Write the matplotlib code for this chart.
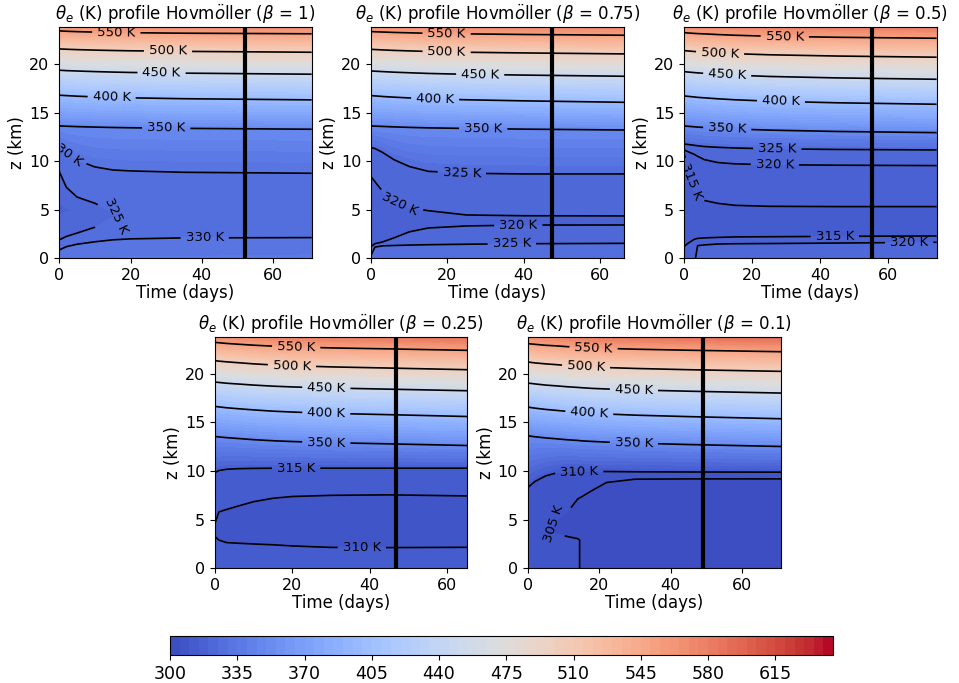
import numpy as np
import matplotlib
matplotlib.use("Agg")
import matplotlib.pyplot as plt

# ---------------- data ----------------
BETAS = ["1", "0.75", "0.5", "0.25", "0.1"]
T_SPINUP = [52.0, 47.5, 55.1, 46.8, 48.9]   # vertical marker (days)
Z_TOP = 23.8                                  # km
CBAR_LEVELS = np.arange(300, 650, 5)          # K

# Panel 1 (beta = 1): knot heights (km) and theta_e (K) at each time (days)
B1_T = [0, 2, 5, 10, 15, 20, 35, 70.8]
B1_Z = [0,
        [0.86, 1.2, 1.45, 1.7, 1.9, 2.0, 2.1, 2.13],
        [1.9, 2.25, 2.6, 3.2, 3.6, 3.8, 4.0, 4.0],
        [5.0, 5.0, 4.8, 4.5, 4.4, 4.8, 5.5, 5.5],
        [8.92, 7.3, 6.3, 5.66, 5.2, 6.0, 6.8, 6.8],
        [11.6, 10.8, 10.1, 9.4, 9.09, 8.99, 8.85, 8.75],
        [13.62, 13.59, 13.55, 13.50, 13.46, 13.43, 13.37, 13.28],
        [16.78, 16.74, 16.68, 16.61, 16.55, 16.51, 16.42, 16.30],
        [19.35, 19.31, 19.27, 19.21, 19.16, 19.12, 19.05, 18.94],
        [21.54, 21.51, 21.47, 21.42, 21.38, 21.35, 21.29, 21.20],
        [23.40, 23.36, 23.32, 23.27, 23.23, 23.21, 23.16, 23.10],
        Z_TOP]
B1_TH = [[334, 334, 334.5, 335, 335, 335.5, 335.5, 336],
         330,
         [325, 325, 325, 325, 326, 327.5, 328.5, 329],
         [319, 319.5, 320.5, 323.5, 324.6, 326, 327, 327.5],
         [325, 325, 325, 325, 325.5, 327, 328, 328.3],
         330, 350, 400, 450, 500, 550,
         [560, 561, 562, 563, 564, 565, 566.5, 569]]
B1_LINES = [325, 330, 350, 400, 450, 500, 550]

# Panel 2 (beta = 0.75)
B2_T = [0, 1, 3, 6, 10, 15, 25, 40, 66.3]
B2_Z = [0,
        [0.3, 1.15, 1.28, 1.32, 1.36, 1.4, 1.45, 1.5, 1.54],
        [1.2, 1.5, 1.68, 2.1, 2.72, 3.12, 3.33, 3.42, 3.43],
        [4.5, 4.5, 4.4, 4.2, 4.0, 3.9, 3.9, 3.9, 3.9],
        [8.4, 7.9, 6.9, 5.8, 5.2, 4.9, 4.46, 4.38, 4.36],
        [11.39, 11.3, 10.9, 10.15, 9.45, 8.95, 8.75, 8.68, 8.68],
        [13.62, 13.60, 13.57, 13.52, 13.47, 13.42, 13.36, 13.29, 13.20],
        [16.74, 16.71, 16.65, 16.58, 16.50, 16.42, 16.31, 16.20, 16.05],
        [19.28, 19.25, 19.21, 19.15, 19.09, 19.02, 18.93, 18.85, 18.73],
        [21.50, 21.48, 21.44, 21.39, 21.34, 21.28, 21.20, 21.13, 21.03],
        [23.33, 23.31, 23.28, 23.24, 23.20, 23.15, 23.09, 23.03, 22.95],
        Z_TOP]
B2_TH = [[325.6, 328, 328, 328, 328, 328, 328, 328, 328],
         325, 320,
         [315, 315.5, 316, 317, 318, 318.8, 319.2, 319.4, 319.5],
         320, 325, 350, 400, 450, 500, 550,
         [563, 563.5, 564.5, 565.5, 567, 568, 570, 571.5, 574]]
B2_LINES = [320, 325, 350, 400, 450, 500, 550]

# Panel 3 (beta = 0.5)
B3_T = [0, 1, 3, 4, 6, 10, 15, 25, 45, 74.2]
B3_Z = [0,
        [0.6, 0.6, 0.6, 1.3, 1.38, 1.47, 1.5, 1.52, 1.57, 1.65],
        [1.2, 1.5, 1.95, 2.05, 2.1, 2.15, 2.2, 2.22, 2.26, 2.3],
        [5.0, 5.0, 4.5, 4.3, 4.0, 3.8, 3.7, 3.6, 3.6, 3.6],
        [10.9, 9.3, 7.0, 6.4, 5.95, 5.65, 5.45, 5.35, 5.32, 5.32],
        [11.15, 11.0, 10.7, 10.5, 10.15, 9.85, 9.72, 9.63, 9.58, 9.54],
        [11.77, 11.72, 11.63, 11.58, 11.5, 11.42, 11.35, 11.27, 11.2, 11.15],
        [13.62, 13.59, 13.53, 13.50, 13.46, 13.38, 13.30, 13.19, 13.05, 12.93],
        [16.71, 16.67, 16.60, 16.56, 16.51, 16.41, 16.31, 16.17, 16.00, 15.85],
        [19.21, 19.17, 19.11, 19.08, 19.03, 18.93, 18.84, 18.71, 18.56, 18.42],
        [21.37, 21.34, 21.28, 21.25, 21.21, 21.13, 21.05, 20.94, 20.81, 20.69],
        [23.22, 23.19, 23.14, 23.12, 23.09, 23.02, 22.95, 22.85, 22.74, 22.64],
        Z_TOP]
B3_TH = [[316, 317.5, 319.8, 320.3, 321, 321.5, 322, 322.5, 323, 323],
         [315.5, 316.5, 318, 320, 320, 320, 320, 320, 320, 320],
         315,
         [310, 310.5, 311, 311.3, 311.7, 312.2, 312.5, 313, 313, 313],
         315, 320, 325, 350, 400, 450, 500, 550,
         [566, 567, 568, 568.7, 569.7, 571.6, 573.5, 576, 579, 582]]
B3_LINES = [315, 320, 325, 350, 400, 450, 500, 550]

# Panel 4 (beta = 0.25)
B4_T = [0, 1, 3, 6, 10, 15, 20, 30, 45, 65.3]
B4_Z = [0,
        [3.26, 2.9, 2.64, 2.58, 2.5, 2.42, 2.3, 2.15, 2.13, 2.16],
        [4.0, 4.3, 4.4, 4.6, 4.8, 4.9, 5.0, 5.0, 5.0, 5.0],
        [4.63, 5.8, 6.05, 6.4, 6.85, 7.2, 7.38, 7.5, 7.55, 7.44],
        [9.85, 10.05, 10.18, 10.24, 10.27, 10.29, 10.29, 10.29, 10.29, 10.29],
        [13.55, 13.50, 13.43, 13.34, 13.22, 13.11, 13.03, 12.91, 12.79, 12.62],
        [16.64, 16.59, 16.50, 16.40, 16.28, 16.15, 16.06, 15.92, 15.79, 15.60],
        [19.14, 19.10, 19.02, 18.94, 18.83, 18.72, 18.64, 18.53, 18.41, 18.25],
        [21.34, 21.29, 21.22, 21.13, 21.01, 20.90, 20.82, 20.70, 20.58, 20.41],
        [23.22, 23.18, 23.11, 23.03, 22.93, 22.83, 22.76, 22.65, 22.55, 22.40],
        Z_TOP]
B4_TH = [313, 310,
         [309.8, 308.5, 308, 307.7, 307.3, 307, 306.9, 306.8, 306.8, 306.8],
         310, 315, 350, 400, 450, 500, 550,
         [566, 567, 569, 571.5, 574.5, 577, 579.5, 582.5, 585.5, 589]]
B4_LINES = [310, 315, 350, 400, 450, 500, 550]

# Panel 5 (beta = 0.1)
B5_T = [0, 2, 5, 8, 11, 14, 15, 18, 22, 30, 45, 70.8]
B5_Z = [0, 2.9, 3.9, 6.0,
        [7.0, 7.3, 7.7, 7.8, 8.0, 8.0, 8.0, 8.0, 8.0, 8.0, 8.0, 8.0],
        [7.8, 8.4, 9.0, 9.1, 9.0, 9.0, 9.0, 9.0, 8.82, 9.16, 9.19, 9.19],
        [8.3, 8.92, 9.5, 9.8, 9.93, 9.95, 9.95, 9.95, 9.95, 9.92, 9.9, 9.88],
        [13.62, 13.52, 13.40, 13.31, 13.21, 13.14, 13.10, 13.04, 12.97, 12.86, 12.72, 12.52],
        [16.57, 16.46, 16.33, 16.23, 16.13, 16.04, 16.01, 15.93, 15.86, 15.74, 15.59, 15.37],
        [19.04, 18.95, 18.83, 18.75, 18.66, 18.59, 18.56, 18.49, 18.43, 18.33, 18.20, 18.01],
        [21.20, 21.11, 21.01, 20.93, 20.84, 20.78, 20.75, 20.69, 20.63, 20.54, 20.41, 20.24],
        [23.09, 23.02, 22.92, 22.86, 22.78, 22.72, 22.70, 22.65, 22.60, 22.52, 22.41, 22.26],
        Z_TOP]
B5_TH = [[307, 307, 306.5, 306, 305.6, 305.2, 304.8, 304, 303.5, 303, 302.5, 302.5],
         [306.6, 306.6, 306.2, 306, 305.6, 305.2, 304.8, 304, 303.5, 303, 302.5, 302.5],
         [306.2, 306, 305.3, 304.4, 304, 303.8, 303.5, 303, 302.7, 302.5, 302.3, 302.3],
         [306.8, 306.6, 306, 305.6, 305.1, 304.6, 304.4, 303.8, 303.3, 302.8, 302.5, 302.5],
         [308.4, 308.3, 307.3, 306.5, 305.9, 305.3, 305.3, 305.0, 304.2, 303.5, 303.2, 303.2],
         [309.5, 309.3, 309.2, 308.8, 308.3, 307.5, 307, 306, 305, 305, 305, 305],
         310, 350, 400, 450, 500, 550,
         [570, 572, 575, 577, 579, 581, 582, 583, 585, 587.5, 590.5, 595]]
B5_LINES = [305, 310, 350, 400, 450, 500, 550]

# ---------------- layout (not data) ----------------
AX_RECTS = [
    [0.0618, 0.6218, 0.2632, 0.3387],
    [0.3869, 0.6218, 0.2638, 0.3387],
    [0.7132, 0.6218, 0.2635, 0.3387],
    [0.2242, 0.1679, 0.2631, 0.3391],
    [0.5503, 0.1679, 0.2641, 0.3391],
]
LABEL_POS = [
    [(16, 23.3), (30.5, 21.3), (28.7, 19.2), (14.7, 16.6), (30, 13.45),
     (2, 11.0), (16, 4.4), (40.8, 2.1)],
    [(19.8, 23.2), (19.8, 21.2), (28.6, 18.9), (16.8, 16.5), (29.4, 13.35),
     (23.8, 8.75), (7.6, 5.6), (38.6, 3.42), (36.9, 1.5)],
    [(29.6, 22.85), (10.6, 21.2), (12.7, 19.0), (28.5, 16.2), (12.7, 13.35),
     (27.4, 11.3), (26.7, 9.62), (2.0, 7.9), (44.3, 2.25), (66.1, 1.63)],
    [(21, 22.7), (19.9, 20.8), (28.8, 18.5), (28.8, 15.95), (28.8, 12.9),
     (21, 10.3), (38, 2.15)],
    [(18.4, 22.65), (16.3, 20.7), (29.7, 18.4), (17.2, 15.95), (29.7, 12.9),
     (14.4, 9.95), (7.0, 4.6)],
]
# label rotation overrides (panel index, label text, angle)
ROT_FIX = [(0, "325 K", -65)]

PANELS = [
    (B1_T, B1_Z, B1_TH, B1_LINES),
    (B2_T, B2_Z, B2_TH, B2_LINES),
    (B3_T, B3_Z, B3_TH, B3_LINES),
    (B4_T, B4_Z, B4_TH, B4_LINES),
    (B5_T, B5_Z, B5_TH, B5_LINES),
]


def table(rows, n):
    return np.array([np.broadcast_to(np.asarray(r, dtype=float), (n,)) for r in rows])


fig = plt.figure(figsize=(9.59, 6.83), dpi=100)
cf = None
for i, (T, Zr, THr, lines) in enumerate(PANELS):
    ax = fig.add_axes(AX_RECTS[i])
    n = len(T)
    Y = table(Zr, n)
    C = table(THr, n)
    X = np.tile(np.asarray(T, dtype=float), (Y.shape[0], 1))
    cf = ax.contourf(X, Y, C, levels=CBAR_LEVELS, cmap="coolwarm")
    cs = ax.contour(X, Y, C, levels=lines, colors="k", linewidths=1.2)
    texts = ax.clabel(cs, fmt="%d K", fontsize=9.5, inline=True, manual=LABEL_POS[i])
    for (pi, lab, ang) in ROT_FIX:
        if pi == i:
            for t in texts:
                if t.get_text() == lab:
                    t.set_rotation(ang)
    ax.axvline(T_SPINUP[i], color="k", lw=3)
    ax.set_xlim(0, T[-1])
    ax.set_ylim(0, Z_TOP)
    ax.set_title(r"$\theta_e$ (K) profile Hovm$\ddot{o}$ller ($\beta$ = " + BETAS[i] + ")",
                 fontsize=12, pad=5)
    ax.set_xlabel("Time (days)", fontsize=12, labelpad=1)
    ax.set_ylabel("z (km)", fontsize=12, labelpad=2)
    ax.tick_params(labelsize=11.5)

cax = fig.add_axes([0.1773, 0.041, 0.6913, 0.0278])
cb = fig.colorbar(cf, cax=cax, orientation="horizontal", ticks=CBAR_LEVELS[::7])
cb.ax.tick_params(labelsize=12.5)

fig.savefig("out.png", dpi=100)
